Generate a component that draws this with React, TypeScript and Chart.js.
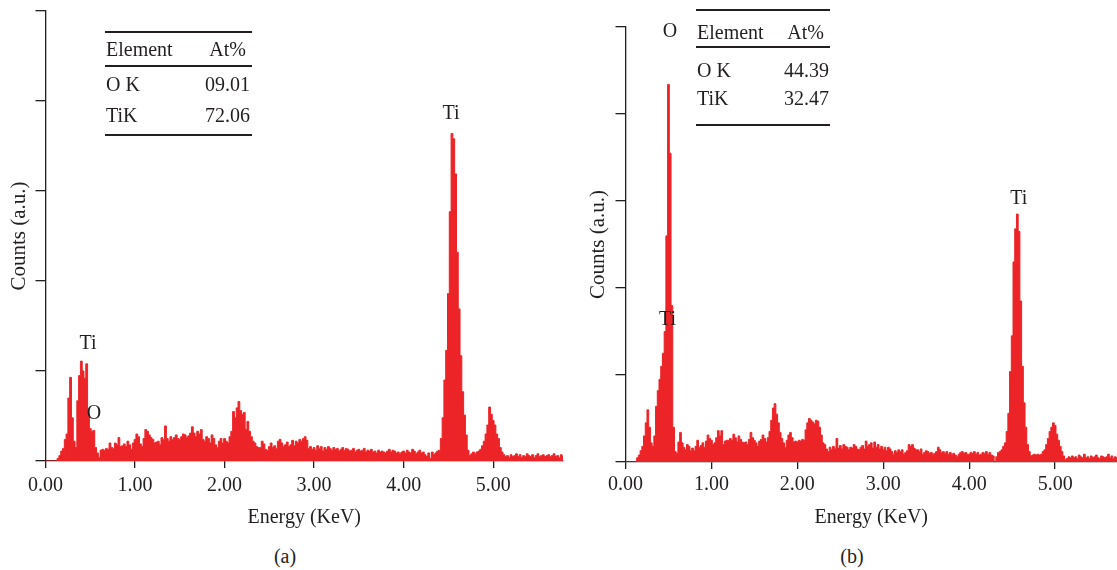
import React, { useEffect, useRef } from "react";
import { Chart, registerables } from "chart.js";

Chart.register(...registerables);

// ---------- data ----------
const BIN_WIDTH_KEV = 0.02;
const X_TICK_LABELS = ["0.00", "1.00", "2.00", "3.00", "4.00", "5.00"];
const Y_MAX = 500;
const Y_STEP = 100;

// panel (a) counts per 0.02 keV channel, 0.00 ... 5.78 keV
const COUNTS_A = [
  0, 0, 0, 0, 0, 0, 0, 3, 6, 11,
  14, 24, 30, 70, 93, 48, 22, 15, 67, 95,
  111, 100, 92, 108, 52, 36, 33, 34, 15, 9,
  4, 12, 13, 12, 14, 13, 20, 15, 14, 20,
  18, 26, 16, 17, 19, 16, 22, 18, 13, 20,
  24, 30, 27, 19, 16, 25, 35, 33, 29, 26,
  24, 20, 21, 22, 18, 26, 24, 39, 25, 22,
  27, 24, 26, 29, 25, 24, 27, 30, 29, 26,
  28, 31, 38, 31, 27, 33, 30, 35, 24, 22,
  27, 25, 20, 29, 25, 18, 15, 22, 25, 20,
  25, 22, 20, 27, 33, 55, 48, 59, 66, 56,
  52, 54, 35, 44, 33, 27, 22, 20, 16, 15,
  15, 22, 19, 13, 12, 16, 20, 15, 17, 14,
  22, 24, 20, 16, 18, 21, 16, 18, 23, 17,
  22, 20, 24, 22, 25, 27, 23, 14, 16, 13,
  15, 12, 17, 14, 16, 11, 15, 13, 16, 14,
  12, 15, 13, 14, 11, 13, 15, 12, 14, 13,
  11, 12, 14, 10, 12, 13, 11, 12, 14, 10,
  12, 11, 13, 10, 11, 9, 12, 10, 11, 10,
  9, 11, 13, 10, 12, 11, 9, 10, 8, 10,
  11, 9, 12, 10, 9, 13, 11, 8, 10, 12,
  9, 10, 7, 5, 9, 3, 10, 7, 9, 11,
  12, 25, 48, 90, 123, 186, 277, 364, 358, 319,
  232, 169, 117, 77, 51, 29, 12, 6, 8, 10,
  8, 10, 11, 13, 17, 22, 30, 40, 60, 52,
  45, 40, 30, 25, 15, 10, 7, 5, 6, 4,
  7, 5, 6, 8, 5, 7, 4, 6, 5, 8,
  6, 5, 7, 4, 6, 8, 5, 6, 7, 5,
  6, 7, 5, 6, 8, 5, 6, 4, 7, 5,
];

// panel (b) counts per 0.02 keV channel, 0.00 ... 5.72 keV
const COUNTS_B = [
  0, 0, 0, 0, 0, 0, 0, 5, 8, 13,
  18, 30, 45, 60, 40, 22, 18, 30, 64, 82,
  95, 110, 125, 150, 260, 434, 355, 180, 40, 12,
  10, 23, 34, 22, 17, 14, 20, 18, 13, 16,
  13, 18, 25, 17, 19, 22, 17, 24, 31, 27,
  25, 20, 22, 28, 36, 30, 36, 20, 24, 25,
  25, 27, 25, 32, 28, 23, 30, 26, 23, 22,
  23, 20, 26, 34, 28, 25, 22, 18, 24, 26,
  31, 27, 23, 28, 35, 48, 62, 67, 55, 45,
  34, 27, 22, 17, 25, 31, 34, 28, 23, 24,
  23, 25, 24, 26, 25, 37, 45, 50, 48, 46,
  44, 48, 47, 40, 31, 22, 20, 15, 12, 17,
  14, 18, 15, 27, 16, 19, 15, 20, 18, 17,
  14, 17, 16, 20, 18, 15, 14, 17, 19, 15,
  24, 18, 20, 22, 16, 23, 17, 20, 15, 18,
  14, 17, 13, 17, 15, 12, 9, 13, 11, 14,
  12, 14, 9, 11, 13, 20, 18, 20, 16, 14,
  14, 12, 15, 9, 11, 13, 12, 10, 11, 9,
  10, 12, 17, 14, 11, 12, 10, 12, 9, 11,
  9, 10, 8, 6, 9, 11, 12, 10, 11, 9,
  9, 11, 10, 12, 9, 11, 8, 9, 11, 10,
  12, 9, 11, 8, 7, 0, 6, 11, 12, 14,
  18, 22, 35, 56, 104, 145, 230, 268, 285, 265,
  185, 110, 68, 40, 20, 12, 7, 8, 9, 8,
  9, 8, 9, 12, 14, 20, 27, 35, 40, 45,
  42, 32, 25, 18, 12, 7, 3, 4, 6, 5,
  7, 5, 6, 4, 8, 6, 5, 9, 5, 6,
  4, 7, 5, 6, 8, 5, 4, 7, 6, 5,
  6, 9, 5, 7, 4, 6, 5,
];

// peak annotations (text, energy keV, counts)
const PEAK_TEXT_A = ["Ti", "Ti", "O"];
const PEAK_ENERGY_A = [4.53, 0.475, 0.542];
const PEAK_COUNTS_A = [386, 130, 53];

const PEAK_TEXT_B = ["O", "Ti", "Ti"];
const PEAK_ENERGY_B = [0.518, 0.489, 4.578];
const PEAK_COUNTS_B = [494, 163, 303];

// inset tables
const TABLE_HEADER = ["Element", "At%"];
const TABLE_ELEMENTS = ["O K", "TiK"];
const AT_PERCENT_A = ["09.01", "72.06"];
const AT_PERCENT_B = ["44.39", "32.47"];

// ---------- styles ----------
const RED = "#ec2327";
const INK = "#231f20";
const FONT_FAMILY = '"Liberation Serif", "DejaVu Serif", serif';

const peakLabelPlugin = {
  id: "peakLabels",
  afterDatasetsDraw(chart: any, _args: any, opts: any) {
    const { ctx, scales } = chart;
    const x = scales.x;
    const y = scales.y;
    ctx.save();
    ctx.font = `20px ${FONT_FAMILY}`;
    ctx.fillStyle = INK;
    ctx.textAlign = "center";
    ctx.textBaseline = "middle";
    (opts.texts || []).forEach((t: string, i: number) => {
      ctx.fillText(t, x.getPixelForValue(opts.energies[i]), y.getPixelForValue(opts.counts[i]));
    });
    ctx.restore();
  },
};

type PanelProps = {
  counts: number[];
  xMax: number;
  left: number;
  width: number;
  height: number;
  padTop: number;
  padRight: number;
  yAxisWidth: number;
  xAxisHeight: number;
  yTitlePad: number;
  xTickPad: number;
  texts: string[];
  energies: number[];
  peakCounts: number[];
};

function SpectrumPanel(p: PanelProps) {
  const ref = useRef<HTMLCanvasElement | null>(null);
  useEffect(() => {
    if (!ref.current) return;
    const points = p.counts.map((c, i) => ({ x: Number((i * BIN_WIDTH_KEV).toFixed(2)), y: c }));
    const chart = new Chart(ref.current, {
      type: "line",
      data: {
        datasets: [
          {
            data: points,
            stepped: "middle",
            fill: "origin",
            backgroundColor: RED,
            borderColor: RED,
            borderWidth: 1,
            pointRadius: 0,
          } as any,
        ],
      },
      options: {
        animation: false,
        responsive: false,
        maintainAspectRatio: false,
        layout: { padding: { top: p.padTop, right: p.padRight, left: 0, bottom: 0 } },
        plugins: {
          legend: { display: false },
          tooltip: { enabled: false },
          peakLabels: { texts: p.texts, energies: p.energies, counts: p.peakCounts },
        } as any,
        scales: {
          x: {
            type: "linear",
            min: 0,
            max: p.xMax,
            afterFit: (s: any) => {
              s.height = p.xAxisHeight;
            },
            ticks: {
              stepSize: 1,
              includeBounds: false,
              autoSkip: false,
              maxRotation: 0,
              padding: p.xTickPad,
              color: INK,
              font: { family: FONT_FAMILY, size: 20 },
              callback: (v: any) => X_TICK_LABELS[Math.round(Number(v))] ?? "",
            },
            grid: { drawOnChartArea: false, drawTicks: true, tickLength: 7, color: INK, lineWidth: 1.3 },
            border: { display: true, color: INK, width: 1.3 },
            title: {
              display: true,
              text: "Energy (KeV)",
              color: INK,
              font: { family: FONT_FAMILY, size: 20 },
              padding: { top: 0, bottom: 10 },
            },
          },
          y: {
            min: 0,
            max: Y_MAX,
            afterFit: (s: any) => {
              s.width = p.yAxisWidth;
            },
            ticks: { display: false, stepSize: Y_STEP },
            grid: { drawOnChartArea: false, drawTicks: true, tickLength: 10, color: INK, lineWidth: 1.3 },
            border: { display: true, color: INK, width: 1.3 },
            title: {
              display: true,
              text: "Counts (a.u.)",
              color: INK,
              font: { family: FONT_FAMILY, size: 21 },
              padding: { top: p.yTitlePad, bottom: 0 },
            },
          },
        },
      } as any,
      plugins: [peakLabelPlugin as any],
    });
    return () => chart.destroy();
  }, []);
  return (
    <canvas
      ref={ref}
      width={p.width}
      height={p.height}
      style={{ position: "absolute", left: p.left, top: 0, width: p.width, height: p.height, display: "block" }}
    />
  );
}

const textStyle: React.CSSProperties = {
  position: "absolute",
  fontFamily: FONT_FAMILY,
  fontSize: 20,
  lineHeight: "20px",
  color: INK,
  whiteSpace: "nowrap",
};

function Rule({ left, width, top }: { left: number; width: number; top: number }) {
  return <div style={{ position: "absolute", left, top: top - 0.65, width, height: 1.3, background: INK }} />;
}

function InsetTable(props: {
  left: number;
  right: number;
  headRight: number;
  valRight: number;
  lines: number[];
  headY: number;
  rowYs: number[];
  values: string[];
}) {
  const { left, right, headRight, valRight, lines, headY, rowYs, values } = props;
  return (
    <>
      {lines.map((y, i) => (
        <Rule key={"l" + i} left={left} width={right - left} top={y} />
      ))}
      <div style={{ ...textStyle, left: left + 1, top: headY - 10 }}>{TABLE_HEADER[0]}</div>
      <div style={{ ...textStyle, left: headRight - 100, width: 100, textAlign: "right", top: headY - 10 }}>
        {TABLE_HEADER[1]}
      </div>
      {TABLE_ELEMENTS.map((el, i) => (
        <React.Fragment key={el}>
          <div style={{ ...textStyle, left: left + 1, top: rowYs[i] - 10 }}>{el}</div>
          <div style={{ ...textStyle, left: valRight - 100, width: 100, textAlign: "right", top: rowYs[i] - 10 }}>
            {values[i]}
          </div>
        </React.Fragment>
      ))}
    </>
  );
}

export default function App() {
  return (
    <div style={{ position: "absolute", left: 0, top: 0, width: 1117, height: 570, background: "#fff", overflow: "hidden" }}>
      <SpectrumPanel
        counts={COUNTS_A}
        xMax={5.78}
        left={0}
        width={575}
        height={540}
        padTop={11}
        padRight={12}
        yAxisWidth={45.5}
        xAxisHeight={79}
        yTitlePad={7}
        xTickPad={6}
        texts={PEAK_TEXT_A}
        energies={PEAK_ENERGY_A}
        peakCounts={PEAK_COUNTS_A}
      />
      <SpectrumPanel
        counts={COUNTS_B}
        xMax={5.72}
        left={570}
        width={547}
        height={540}
        padTop={27}
        padRight={0}
        yAxisWidth={55.5}
        xAxisHeight={78}
        yTitlePad={16}
        xTickPad={4}
        texts={PEAK_TEXT_B}
        energies={PEAK_ENERGY_B}
        peakCounts={PEAK_COUNTS_B}
      />
      <InsetTable
        left={105}
        right={252}
        headRight={246}
        valRight={250}
        lines={[32, 66, 135]}
        headY={49}
        rowYs={[84, 115]}
        values={AT_PERCENT_A}
      />
      <InsetTable
        left={696}
        right={830}
        headRight={824}
        valRight={829}
        lines={[10, 47, 125]}
        headY={32}
        rowYs={[70, 98]}
        values={AT_PERCENT_B}
      />
      <div style={{ ...textStyle, left: 235, width: 100, textAlign: "center", top: 546 }}>(a)</div>
      <div style={{ ...textStyle, left: 802, width: 100, textAlign: "center", top: 546 }}>(b)</div>
    </div>
  );
}
